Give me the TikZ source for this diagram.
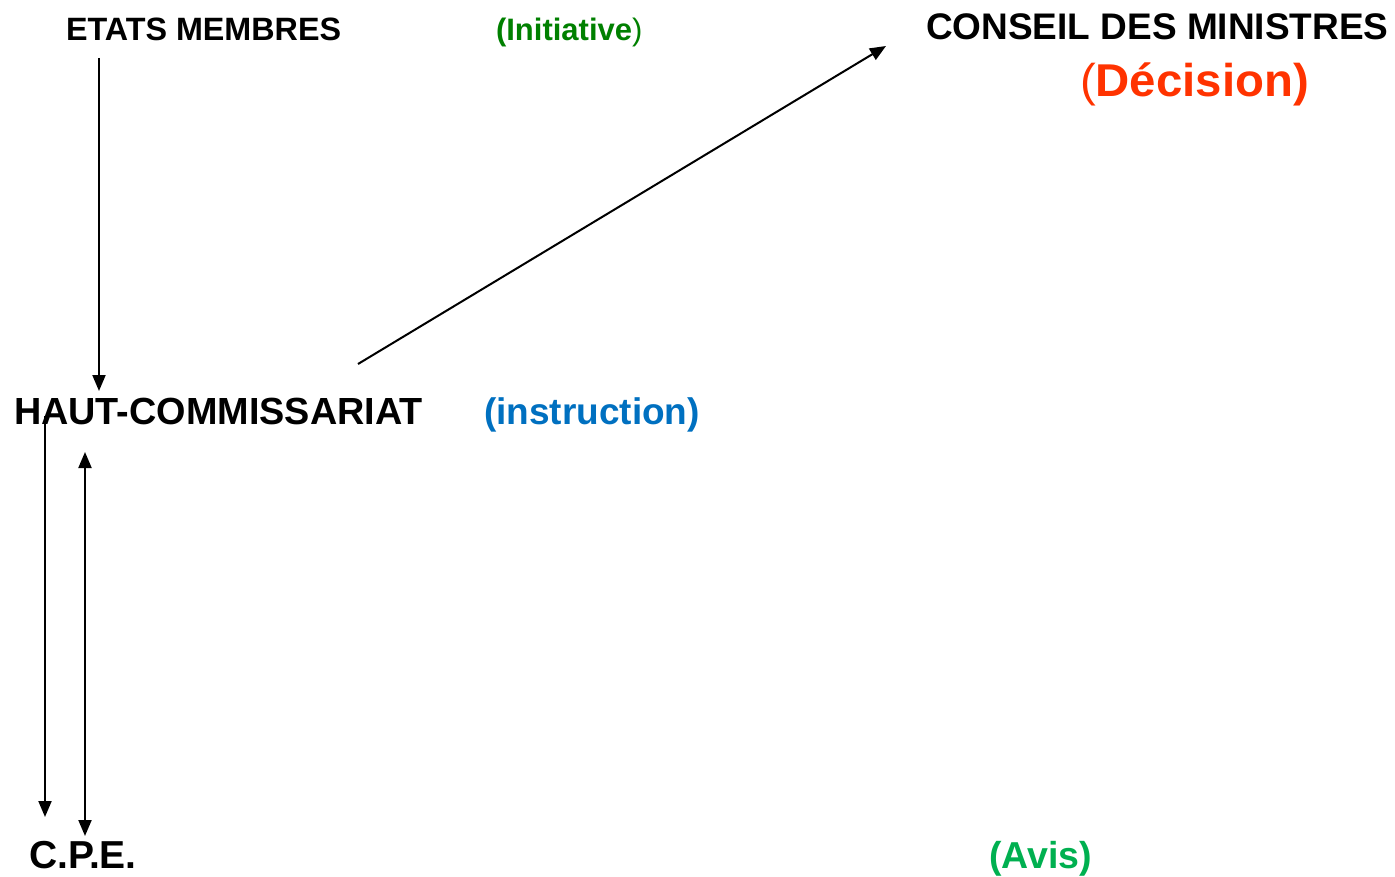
\documentclass[tikz,border=0pt]{standalone}
\usepackage{fontspec}
\usepackage{graphicx}
\setmainfont{Liberation Sans}
\usetikzlibrary{arrows.meta}
\definecolor{initgreen}{RGB}{0,128,0}
\definecolor{decred}{RGB}{255,51,0}
\definecolor{instblue}{RGB}{0,112,192}
\definecolor{avisgreen}{RGB}{0,176,80}
\tikzset{
  lbl/.style={anchor=base west, inner sep=0pt, outer sep=0pt},
  conn/.style={line width=2pt, -{Triangle[length=16pt,width=13pt]}},
  conn2/.style={line width=2pt, {Triangle[length=16pt,width=13pt]}-{Triangle[length=16pt,width=13pt]}}
}
\newcommand{\fsz}[1]{\fontsize{#1}{#1}\selectfont}
\begin{document}
\begin{tikzpicture}[x=1pt,y=-1pt]
\useasboundingbox (0,0) rectangle (1395,877);
% labels
\node[lbl] (etats) at (66,41) {\fsz{32.3}\bfseries ETATS MEMBRES};
\node[lbl, text=initgreen] (init) at (496,41) {\fsz{31}\textbf{(Initiative}\textmd{)}};
\node[lbl] (conseil) at (926,40) {\fsz{37}\bfseries CONSEIL DES MINISTRES};
\node[lbl, text=decred] (decision) at (1080,97) {\fsz{46}\scalebox{1.03}[1]{\textmd{(}\textbf{Décision)}}};
\node[lbl] (haut) at (14,424) {\fsz{37.8}\bfseries HAUT-COMMISSARIAT};
\node[lbl, text=instblue] (instr) at (484,424) {\fsz{37}\bfseries (instruction)};
\node[lbl] (cpe) at (29,868) {\fsz{39}\bfseries C.P.E.};
\node[lbl, text=avisgreen] (avis) at (989,868) {\fsz{37.5}\bfseries (Avis)};
% connector end points
\coordinate (e1) at (99,58);
\coordinate (h1) at (99,391);
\coordinate (h2) at (358,364);
\coordinate (c1) at (886,46);
\coordinate (h3) at (45,416);
\coordinate (p1) at (45,817);
\coordinate (h4) at (85,452);
\coordinate (p2) at (85,836);
% connectors
\draw[conn] (e1) -- (h1);
\draw[conn] (h2) -- (c1);
\draw[conn] (h3) -- (p1);
\draw[conn2] (h4) -- (p2);
\end{tikzpicture}
\end{document}
